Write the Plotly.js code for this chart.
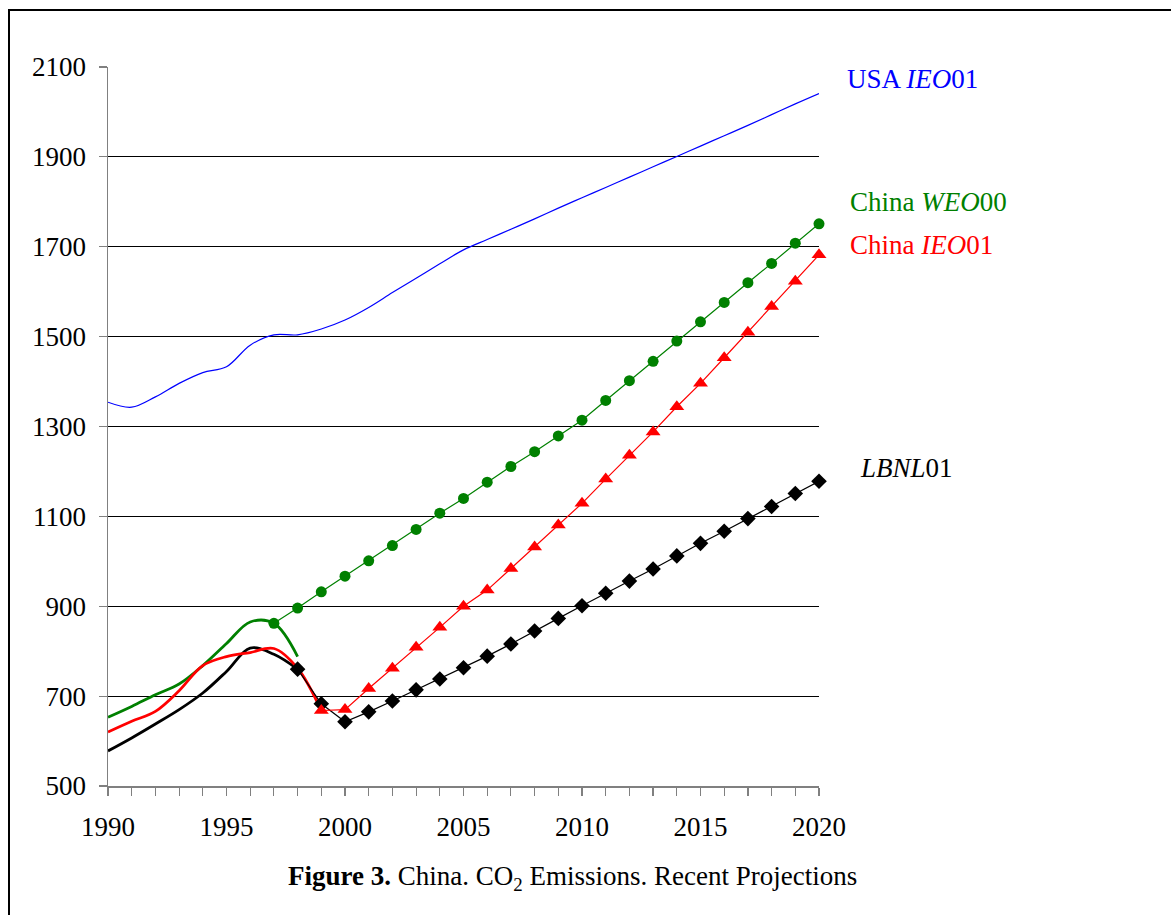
<!DOCTYPE html>
<html>
<head>
<meta charset="utf-8">
<script src="https://cdn.plot.ly/plotly-3.0.1.min.js"></script>
<style>
  html, body { margin: 0; padding: 0; background: #fff; }
  #chart { position: absolute; left: 0; top: 0; width: 1171px; height: 915px; }
  #frame { position: absolute; left: 8px; top: 9px; right: 0; bottom: 0;
           border-top: 2px solid #000; border-left: 2px solid #000; pointer-events: none; }
</style>
</head>
<body>
<div id="chart"></div>
<div id="frame"></div>
<script>
// CO2 emissions, historical curves and projections
const yearsUSA = [1990,1991,1992,1993,1994,1995,1996,1997,1998,1999,2000,2001,2002,2003,2004,2005,
                  2006,2007,2008,2009,2010,2011,2012,2013,2014,2015,2016,2017,2018,2019,2020];
const usaIEO01 = [1354,1343,1366,1396,1420,1433,1481,1504,1504,1517,1537,1565,1598,1630,1662,1693,
                  1716,1739,1762,1786,1809,1832,1855,1878,1901,1924,1947,1970,1994,2018,2041];

const yearsHistGreen = [1990,1991,1992,1993,1994,1995,1996,1997,1998];
const chinaWEOHist   = [653,677,703,727,768,817,865,862,788];

const yearsHistRed   = [1990,1991,1992,1993,1994,1995,1996,1997,1998,1999];
const chinaIEOHist   = [620,644,666,712,768,788,797,806,762,668];

const yearsHistBlack = [1990,1991,1992,1993,1994,1995,1996,1997,1998];
const lbnlHist       = [578,607,638,670,707,755,807,793,760];

const yearsWEO = [1997,1998,1999,2000,2001,2002,2003,2004,2005,2006,2007,2008,
                  2009,2010,2011,2012,2013,2014,2015,2016,2017,2018,2019,2020];
const chinaWEO00 = [862,896,932,967,1001,1035,1071,1107,1140,1176,1211,1244,
                    1279,1314,1358,1402,1445,1490,1533,1576,1620,1663,1708,1751];

const yearsIEO = [1999,2000,2001,2002,2003,2004,2005,2006,2007,2008,2009,
                  2010,2011,2012,2013,2014,2015,2016,2017,2018,2019,2020];
const chinaIEO01 = [668,670,717,762,809,853,900,936,984,1032,1081,
                    1129,1183,1236,1288,1344,1396,1453,1510,1567,1623,1682];

const yearsLBNL = [1998,1999,2000,2001,2002,2003,2004,2005,2006,2007,2008,2009,
                   2010,2011,2012,2013,2014,2015,2016,2017,2018,2019,2020];
const lbnl01 = [760,683,643,665,689,714,738,763,789,816,845,873,
                901,929,956,983,1012,1040,1067,1095,1122,1151,1178];

const xTickVals = [1990,1995,2000,2005,2010,2015,2020];
const yTickVals = [500,700,900,1100,1300,1500,1700,1900,2100];

const GREEN = '#008000', RED = '#ff0000', BLUE = '#0000ff', BLACK = '#000000';
const FONT = 'Liberation Serif, Times New Roman, serif';
const FS = 27;

const traces = [
  { x: yearsUSA, y: usaIEO01, mode: 'lines', line: { color: BLUE, width: 1.2, shape: 'spline', smoothing: 1 } },
  { x: yearsHistGreen, y: chinaWEOHist, mode: 'lines', line: { color: GREEN, width: 2.8, shape: 'spline', smoothing: 1 } },
  { x: yearsHistBlack, y: lbnlHist, mode: 'lines', line: { color: BLACK, width: 2.8, shape: 'spline', smoothing: 1 } },
  { x: yearsHistRed, y: chinaIEOHist, mode: 'lines', line: { color: RED, width: 2.8, shape: 'spline', smoothing: 1 } },
  { x: yearsWEO, y: chinaWEO00, mode: 'lines+markers', line: { color: GREEN, width: 1.2 },
    marker: { symbol: 'circle', size: 11, color: GREEN } },
  { x: yearsLBNL, y: lbnl01, mode: 'lines+markers', line: { color: BLACK, width: 1.2 },
    marker: { symbol: 'diamond', size: 12, color: BLACK } },
  { x: yearsIEO, y: chinaIEO01, mode: 'lines+markers', line: { color: RED, width: 1.2 },
    marker: { symbol: 'triangle-up', size: 13, color: RED } }
].map(t => Object.assign(t, { type: 'scatter', cliponaxis: false, hoverinfo: 'skip' }));

const labelFont = (c) => ({ family: FONT, size: FS, color: c });

// series labels sit to the right of the plotting area (paper coordinates)
const seriesLabel = (text, px, py, color) => ({
  x: px, y: py, xref: 'paper', yref: 'paper', xanchor: 'left', yanchor: 'middle',
  showarrow: false, text: text, font: labelFont(color)
});

const layout = {
  width: 1171, height: 915,
  margin: { l: 108, r: 352, t: 67, b: 129 },
  paper_bgcolor: '#ffffff', plot_bgcolor: '#ffffff',
  showlegend: false,
  font: { family: FONT, size: FS, color: '#000' },
  xaxis: {
    range: [1990, 2020], tickvals: xTickVals, ticktext: xTickVals.map(String),
    showgrid: false, zeroline: false, showline: true, linecolor: '#808080', linewidth: 1.5,
    ticks: 'outside', ticklen: 8, tickcolor: '#808080', tickwidth: 1.2,
    minor: { dtick: 1, tick0: 1990, ticks: 'outside', ticklen: 8, tickcolor: '#808080', tickwidth: 1.2, showgrid: false },
    ticklabelstandoff: 8,
    tickfont: { family: FONT, size: FS, color: '#000' }
  },
  yaxis: {
    range: [500, 2100], tickvals: yTickVals, ticktext: yTickVals.map(String),
    showgrid: true, gridcolor: '#000000', gridwidth: 1, zeroline: false,
    showline: true, linecolor: '#808080', linewidth: 1.5,
    ticks: 'outside', ticklen: 8, tickcolor: '#808080', tickwidth: 1.2,
    ticklabelstandoff: 7,
    tickfont: { family: FONT, size: FS, color: '#000' }
  },
  annotations: [
    seriesLabel('USA <i>IEO</i>01', 1.0366, 0.9833, BLUE),
    seriesLabel('China <i>WEO</i>00', 1.0408, 0.8122, GREEN),
    seriesLabel('China <i>IEO</i>01', 1.0408, 0.7524, RED),
    seriesLabel('<i>LBNL</i>01', 1.0549, 0.4423, BLACK),
    { x: 0.654, y: -0.128, xref: 'paper', yref: 'paper', xanchor: 'center', yanchor: 'middle', showarrow: false,
      text: '<b>Figure 3.</b> China. CO<sub>2</sub> Emissions. Recent Projections', font: labelFont(BLACK) }
  ]
};

Plotly.newPlot('chart', traces, layout, { displayModeBar: false, staticPlot: true });
</script>
</body>
</html>
